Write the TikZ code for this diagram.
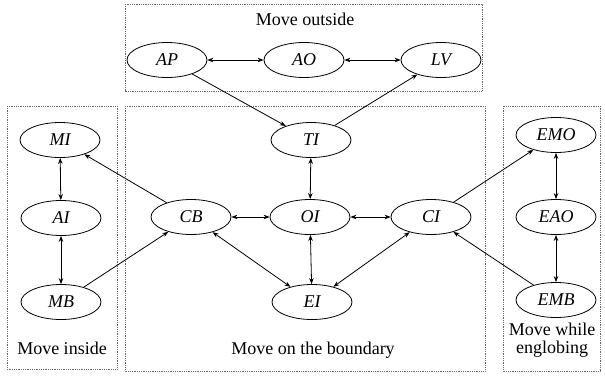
\documentclass[tikz,border=0pt]{standalone}
\usepackage{fontspec}
\setmainfont{Liberation Serif}
\usetikzlibrary{shapes.geometric,arrows.meta}
\begin{document}
\begin{tikzpicture}[x=1pt,y=-1pt,
  st/.style={ellipse,draw,line width=0.8pt,minimum width=80pt,minimum height=35pt,inner sep=0pt,font=\fontsize{18}{20}\selectfont\itshape},
  grp/.style={draw=black!60,densely dotted,line width=0.8pt},
  lab/.style={font=\fontsize{18}{21}\selectfont,align=center},
  bi/.style={{Stealth[length=6pt,width=4.5pt]}-{Stealth[length=6pt,width=4.5pt]},line width=0.8pt},
  uni/.style={-{Stealth[length=6pt,width=4.5pt]},line width=0.8pt}]
\useasboundingbox (0,0) rectangle (605,378);
% group boxes
\draw[grp] (125,4) rectangle (482,91);
\draw[grp] (7,106) rectangle (117,369);
\draw[grp] (125,106) rectangle (485,371);
\draw[grp] (503,106) rectangle (600,371);
\node[lab] (tout) at (305,19) {Move outside};
\node[lab] (tin) at (62,348) {Move inside};
\node[lab] (tbd) at (313,350) {Move on the boundary};
\node[lab,font=\fontsize{18}{18}\selectfont] (ten) at (552,340) {Move while\\englobing};
% nodes
\node[st] (AP) at (167,60) {AP};
\node[st] (AO) at (304,60) {AO};
\node[st] (LV) at (441,60) {LV};
\node[st] (MI) at (60,140) {MI};
\node[st] (AI) at (61,218) {AI};
\node[st] (MB) at (61,302) {MB};
\node[st] (TI) at (311,140) {TI};
\node[st] (CB) at (191,217) {CB};
\node[st] (OI) at (310,217) {OI};
\node[st] (CI) at (431,217) {CI};
\node[st] (EI) at (312,302) {EI};
\node[st] (EMO) at (556,135) {EMO};
\node[st] (EAO) at (556,217) {EAO};
\node[st] (EMB) at (556,300) {EMB};
% edges
\draw[bi] (AP) -- (AO);
\draw[bi] (AO) -- (LV);
\draw[uni] (AP) -- (TI);
\draw[uni] (TI) -- (LV);
\draw[bi] (TI) -- (OI);
\draw[uni] (CB) -- (MI);
\draw[bi] (MI) -- (AI);
\draw[bi] (AI) -- (MB);
\draw[uni] (MB) -- (CB);
\draw[bi] (CB) -- (OI);
\draw[bi] (OI) -- (CI);
\draw[bi] (CB) -- (EI);
\draw[bi] (OI) -- (EI);
\draw[bi] (CI) -- (EI);
\draw[uni] (CI) -- (EMO);
\draw[uni] (EMB) -- (CI);
\draw[bi] (EMO) -- (EAO);
\draw[bi] (EAO) -- (EMB);
\end{tikzpicture}
\end{document}
